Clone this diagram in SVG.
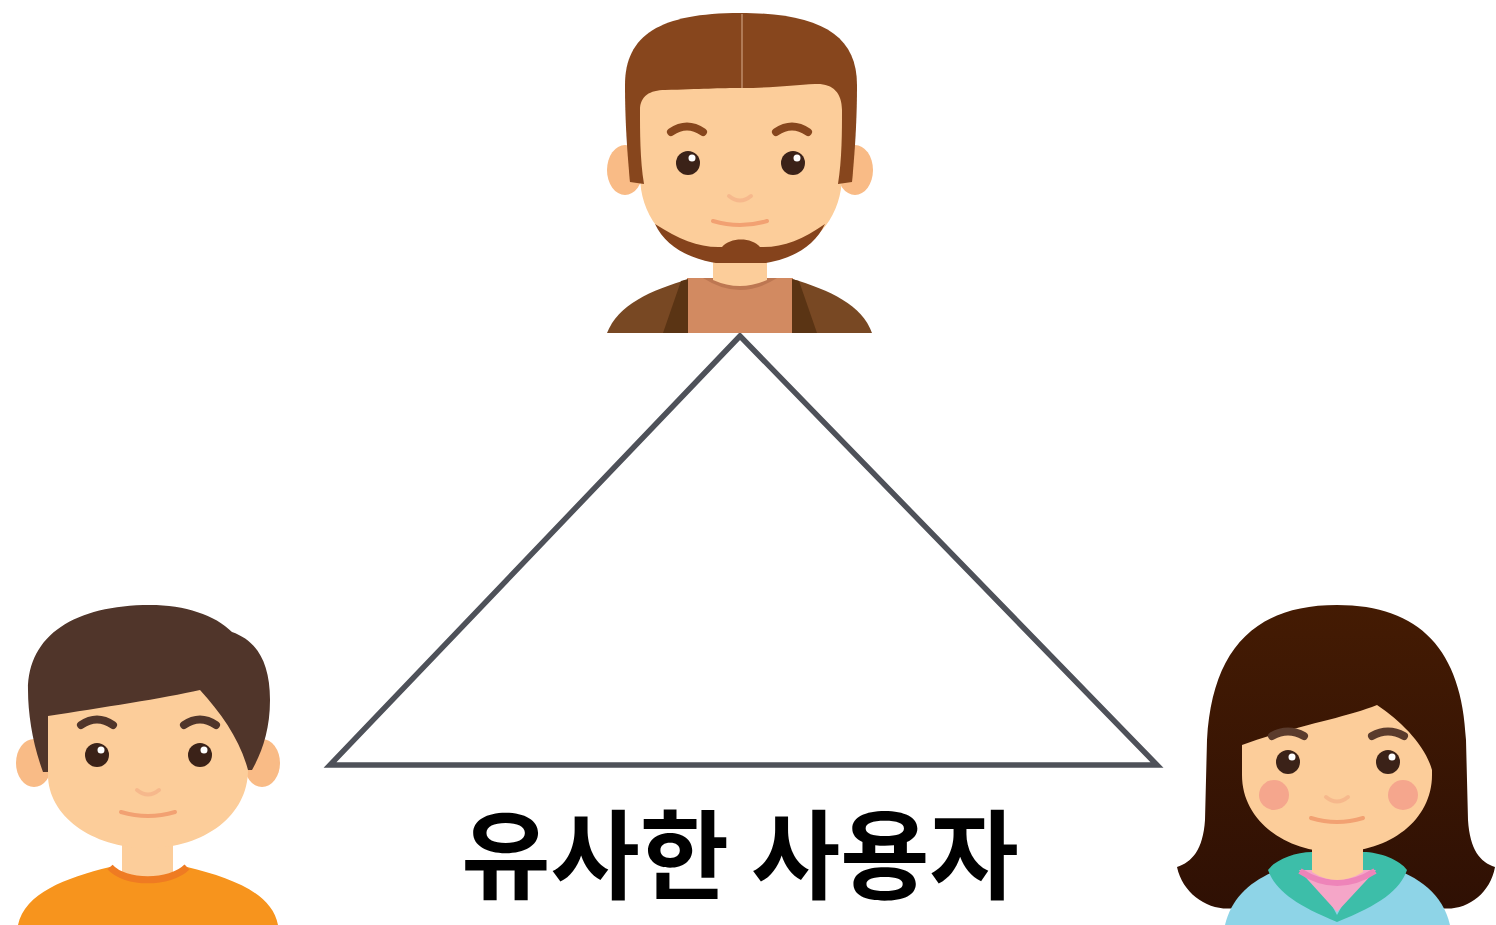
<svg xmlns="http://www.w3.org/2000/svg" width="1496" height="925" viewBox="0 0 1496 925">
  <style>
    .skin { fill: #fccd9a; }
    .ear { fill: #f9bb86; }
    .eye { fill: #3b2218; }
    .glint { fill: #ffffff; }
    .brow { fill: none; stroke-width: 8; stroke-linecap: round; }
    .nose { fill: none; stroke: #f6b88c; stroke-width: 4; stroke-linecap: round; }
    .mouth { fill: none; stroke: #f2a172; stroke-width: 4; stroke-linecap: round; }
    .edge { fill: none; stroke: #4e5159; stroke-width: 5.5; stroke-linejoin: miter; }
    .label { font-family: "Noto Sans CJK KR", "Noto Sans", sans-serif; font-weight: 700; font-size: 97px; fill: #000000; }
  </style>
  <defs>
    <linearGradient id="girlHair" x1="0" y1="0" x2="0" y2="1">
      <stop offset="0" stop-color="#441b03"/>
      <stop offset="1" stop-color="#2f1004"/>
    </linearGradient>
  </defs>

  <rect width="1496" height="925" fill="#ffffff"/>

  <!-- connectors: the three edges between users -->
  <g id="connectors">
    <path class="edge" d="M 740,336 L 330,765 L 1157,765 Z"/>
  </g>

  <!-- bearded man, top -->
  <g id="node-top">
    <ellipse class="ear" cx="625" cy="170" rx="18" ry="25"/>
    <ellipse class="ear" cx="855" cy="170" rx="18" ry="25"/>
    <path fill="#87461d" d="M 630,182 C 626,140 625,110 625,85 C 625,35 660,13 740,13 C 820,13 857,35 857,85 C 857,110 856,140 852,182 Z"/>
    <path class="skin" d="M 713,240 L 767,240 L 767,285 L 713,285 Z"/>
    <path class="skin" d="M 640,110 C 640,96 650,90 665,90 C 700,89 720,88 742,88 C 770,88 795,85 815,84 C 832,83 842,92 842,110 L 842,175 C 842,228 800,262 741,262 C 682,262 640,228 640,175 Z"/>
    <path d="M 742,14 L 742,88" stroke="#b07a56" stroke-width="2"/>
    <path fill="#87461d" d="M 640,112 C 640,130 640,160 644,184 L 630,182 L 628,112 Z"/>
    <path fill="#87461d" d="M 842,112 C 842,130 842,160 838,184 L 852,182 L 854,112 Z"/>
    <path class="brow" stroke="#87461d" d="M 671,132 Q 687,121 703,132"/>
    <path class="brow" stroke="#87461d" d="M 776,132 Q 792,121 808,132"/>
    <circle class="eye" cx="688" cy="163" r="12"/>
    <circle class="glint" cx="692" cy="158" r="3.5"/>
    <circle class="eye" cx="793" cy="163" r="12"/>
    <circle class="glint" cx="797" cy="158" r="3.5"/>
    <path class="nose" d="M 729,196 Q 740,205 751,196"/>
    <path class="mouth" d="M 713,221 Q 740,229 767,221"/>
    <path fill="#85431c" d="M 655,224 C 680,240 700,248 722,247 C 730,237 752,237 760,247 C 782,248 802,240 825,224 C 812,252 780,265 741,265 C 702,265 668,252 655,224 Z"/>
    <path fill="#784823" d="M 607,333 C 618,305 650,290 690,279 L 792,279 C 830,290 862,305 872,333 Z"/>
    <path fill="#d28a61" d="M 687,278 L 793,278 L 793,333 L 687,333 Z"/>
    <path fill="#5a3414" d="M 663,333 L 681,281 L 688,279 L 688,333 Z"/>
    <path fill="#5a3414" d="M 817,333 L 799,281 L 792,279 L 792,333 Z"/>
    <path fill="#bd7752" d="M 703,278 Q 740,302 777,278 Z"/>
    <path class="skin" d="M 713,263 L 767,263 L 767,280 Q 740,292 713,280 Z"/>
  </g>

  <!-- boy in orange shirt, bottom left -->
  <g id="node-left">
    <ellipse class="ear" cx="34" cy="763" rx="18" ry="24"/>
    <ellipse class="ear" cx="262" cy="763" rx="18" ry="24"/>
    <path fill="#50352a" d="M 43,772 C 33,745 28,715 28,690 C 28,635 75,605 150,605 C 185,605 215,615 232,632 C 255,640 270,660 270,700 C 270,730 262,752 252,770 Z"/>
    <rect class="skin" x="122" y="825" width="51" height="60"/>
    <path class="skin" d="M 48,716 C 100,708 165,698 200,690 C 222,714 240,740 248,770 C 248,815 205,848 148,848 C 91,848 48,815 48,775 Z"/>
    <path class="brow" stroke="#50352a" d="M 81,725 Q 97,714 113,725"/>
    <path class="brow" stroke="#50352a" d="M 184,725 Q 200,714 216,725"/>
    <circle class="eye" cx="97" cy="755" r="12"/>
    <circle class="glint" cx="101" cy="750" r="3.5"/>
    <circle class="eye" cx="200" cy="755" r="12"/>
    <circle class="glint" cx="204" cy="750" r="3.5"/>
    <path class="nose" d="M 137,790 Q 148,799 159,790"/>
    <path class="mouth" d="M 121,812 Q 148,820 175,812"/>
    <path fill="#f7941d" d="M 18,925 C 25,893 65,878 110,867 C 125,884 170,884 187,867 C 232,878 272,893 278,925 Z"/>
    <path fill="none" stroke="#ef7b22" stroke-width="7" d="M 110,867 C 125,884 170,884 187,867"/>
  </g>

  <!-- girl in blue hoodie, bottom right -->
  <g id="node-right">
    <path fill="url(#girlHair)" d="M 1337,605 C 1420,605 1462,650 1466,740 L 1468,820 C 1470,850 1480,862 1495,867 C 1490,895 1465,912 1440,908 L 1380,880 L 1300,880 L 1235,908 C 1210,912 1183,895 1177,867 C 1192,862 1203,850 1205,820 L 1207,740 C 1212,650 1254,605 1337,605 Z"/>
    <rect class="skin" x="1312" y="830" width="51" height="50"/>
    <path class="skin" d="M 1242,745 C 1290,727 1345,718 1377,705 C 1402,722 1425,745 1432,770 L 1432,775 C 1432,820 1390,852 1337,852 C 1284,852 1242,820 1242,775 Z"/>
    <circle fill="#f5a68d" cx="1274" cy="795" r="15"/>
    <circle fill="#f5a68d" cx="1403" cy="795" r="15"/>
    <path class="brow" stroke="#5a3b2c" d="M 1272,736 Q 1288,727 1304,736"/>
    <path class="brow" stroke="#5a3b2c" d="M 1372,736 Q 1388,727 1404,736"/>
    <circle class="eye" cx="1288" cy="762" r="12"/>
    <circle class="glint" cx="1292" cy="757" r="3.5"/>
    <circle class="eye" cx="1388" cy="762" r="12"/>
    <circle class="glint" cx="1392" cy="757" r="3.5"/>
    <path class="nose" d="M 1326,797 Q 1337,806 1348,797"/>
    <path class="mouth" d="M 1311,818 Q 1337,826 1363,818"/>
    <path fill="#8ed4e7" d="M 1225,925 C 1232,895 1255,876 1290,866 L 1385,866 C 1420,876 1443,895 1450,925 Z"/>
    <path fill="#3dbea9" d="M 1268,870 C 1275,860 1295,852 1312,852 L 1312,868 L 1337,915 L 1363,868 L 1363,852 C 1380,852 1400,860 1407,870 C 1400,890 1380,905 1337,922 C 1295,905 1275,890 1268,870 Z"/>
    <path fill="#f5a6c8" d="M 1299,870 L 1376,870 L 1337,912 Z"/>
    <path fill="none" stroke="#ee84b9" stroke-width="6" d="M 1300,871 Q 1337,895 1375,871"/>
    <path class="skin" d="M 1312,852 L 1363,852 L 1363,872 Q 1337,888 1312,872 Z"/>
  </g>

  <g id="label">
    <text class="label" x="740" y="891" text-anchor="middle">유사한 사용자</text>
  </g>
</svg>
